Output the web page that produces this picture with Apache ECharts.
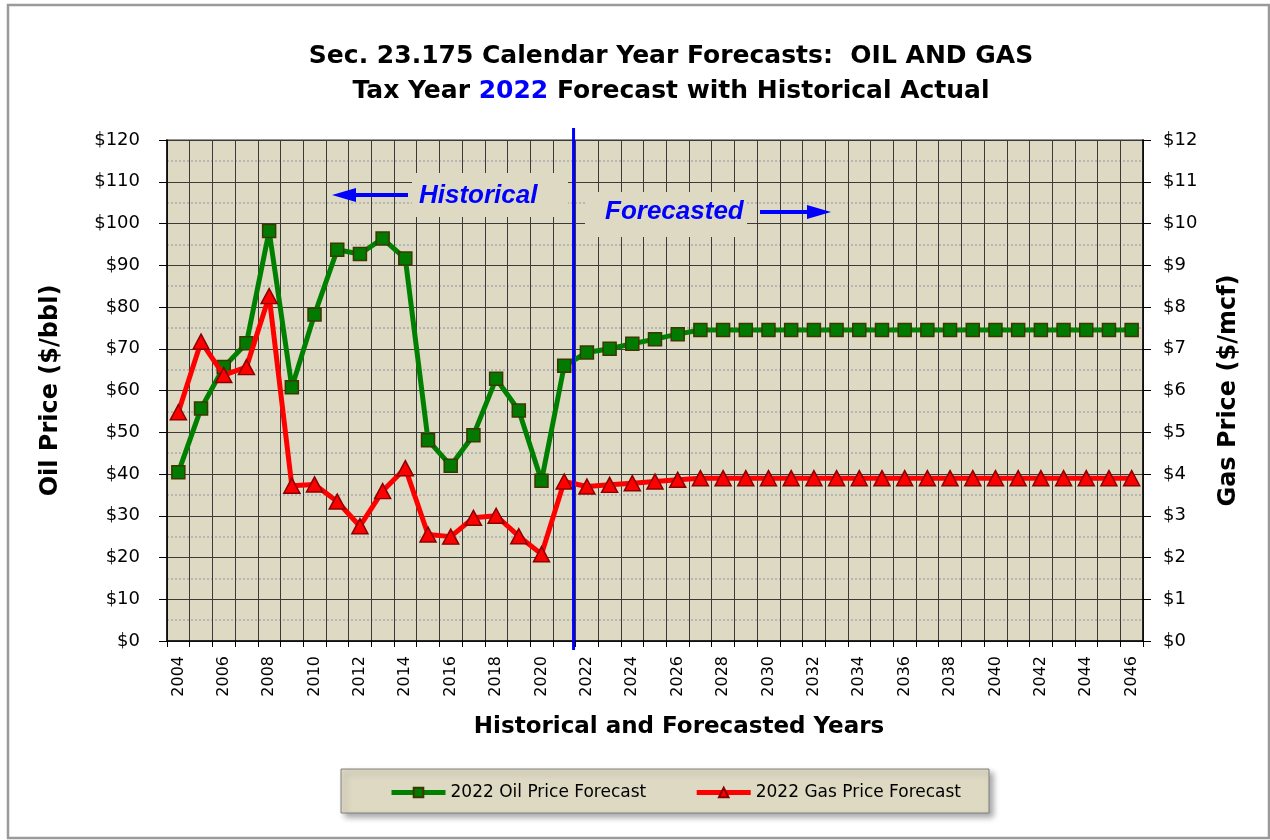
<!DOCTYPE html>
<html>
<head>
<meta charset="utf-8">
<script src="https://cdn.jsdelivr.net/npm/echarts@6/dist/echarts.min.js"></script>
<style>
  html, body { margin: 0; padding: 0; background: #fff; }
  #main { width: 1270px; height: 840px; }
</style>
</head>
<body>
<div id="main"></div>
<script>
var years = ['2004','2005','2006','2007','2008','2009','2010','2011','2012','2013','2014',
	'2015','2016','2017','2018','2019','2020','2021','2022','2023','2024','2025','2026',
	'2027','2028','2029','2030','2031','2032','2033','2034','2035','2036','2037','2038',
	'2039','2040','2041','2042','2043','2044','2045','2046'];

// $/bbl
var oilPrice = [40.4, 55.7, 65.6, 71.3, 98.2, 60.8, 78.2, 93.7, 92.7, 96.4, 91.6,
	48.1, 42.0, 49.3, 62.8, 55.2, 38.4, 65.9, 69.1, 70.0, 71.2, 72.3, 73.5,
	74.5, 74.5, 74.5, 74.5, 74.5, 74.5, 74.5, 74.5, 74.5, 74.5, 74.5, 74.5,
	74.5, 74.5, 74.5, 74.5, 74.5, 74.5, 74.5, 74.5];

// $/mcf
var gasPrice = [5.48, 7.17, 6.37, 6.56, 8.26, 3.72, 3.75, 3.34, 2.75, 3.59, 4.14,
	2.55, 2.50, 2.95, 3.00, 2.51, 2.08, 3.82, 3.70, 3.74, 3.78, 3.82, 3.86,
	3.90, 3.90, 3.90, 3.90, 3.90, 3.90, 3.90, 3.90, 3.90, 3.90, 3.90, 3.90,
	3.90, 3.90, 3.90, 3.90, 3.90, 3.90, 3.90, 3.90];

var lastActualYear = '2021';
var firstForecastYear = '2022';

var FONT = '"DejaVu Sans", Verdana, sans-serif';
var FONT2 = '"Liberation Sans", Arial, sans-serif';
var TAN = '#ddd9c3';

var myChart = echarts.init(document.getElementById('main'));

var annotations = [
	// outer frame
	{ type: 'rect', shape: { x: 8, y: 5, width: 1261, height: 833 },
	  style: { fill: 'none', stroke: '#9a9a9a', lineWidth: 2.5 }, z: 0 },
	// title
	{ type: 'text', x: 671, y: 39, z: 10,
	  style: {
		text: 'Sec. 23.175 Calendar Year Forecasts:  OIL AND GAS\n{b|Tax Year }{blue|2022}{b| Forecast with Historical Actual}',
		font: 'bold 25px ' + FONT, fill: '#000', align: 'center', lineHeight: 35,
		rich: {
			b: { font: 'bold 25px ' + FONT, fill: '#000', lineHeight: 35 },
			blue: { font: 'bold 25px ' + FONT, fill: '#0000ff', lineHeight: 35 }
		}
	  } },
	// Historical label
	{ type: 'rect', shape: { x: 412, y: 173, width: 156, height: 44 },
	  style: { fill: TAN }, z: 5 },
	{ type: 'text', x: 419, y: 196, z: 6,
	  style: { text: 'Historical', font: 'italic bold 26px ' + FONT2, fill: '#0000ff', verticalAlign: 'middle' } },
	{ type: 'line', shape: { x1: 345, y1: 195, x2: 408, y2: 195 },
	  style: { stroke: '#0000ff', lineWidth: 4 }, z: 6 },
	{ type: 'polygon', shape: { points: [[332, 195], [356, 188], [356, 202]] },
	  style: { fill: '#0000ff' }, z: 6 },
	// Forecasted label
	{ type: 'rect', shape: { x: 585, y: 192, width: 162, height: 45 },
	  style: { fill: TAN }, z: 5 },
	{ type: 'text', x: 605, y: 212, z: 6,
	  style: { text: 'Forecasted', font: 'italic bold 26px ' + FONT2, fill: '#0000ff', verticalAlign: 'middle' } },
	{ type: 'line', shape: { x1: 760, y1: 212, x2: 818, y2: 212 },
	  style: { stroke: '#0000ff', lineWidth: 4 }, z: 6 },
	{ type: 'polygon', shape: { points: [[831, 212], [807, 205], [807, 219]] },
	  style: { fill: '#0000ff' }, z: 6 },
	// legend box
	{ type: 'rect', shape: { x: 341, y: 769, width: 648, height: 44 },
	  style: { fill: TAN, stroke: '#808080', lineWidth: 1,
		shadowBlur: 6, shadowOffsetX: 4, shadowOffsetY: 4, shadowColor: 'rgba(0,0,0,0.35)' }, z: 0 }
];

myChart.setOption({
	animation: false,
	textStyle: { fontFamily: FONT },
	grid: {
		left: 167, right: 127, top: 140, bottom: 199,
		show: true, backgroundColor: TAN, borderColor: '#999', borderWidth: 2
	},
	legend: {
		left: 384, top: 779,
		itemWidth: 54, itemHeight: 12, itemGap: 48,
		lineStyle: { width: 5 },
		textStyle: { fontSize: 17, color: '#000', fontFamily: FONT },
		data: ['2022 Oil Price Forecast', '2022 Gas Price Forecast']
	},
	xAxis: {
		type: 'category',
		data: years,
		boundaryGap: true,
		name: 'Historical and Forecasted Years',
		nameLocation: 'middle',
		nameGap: 75,
		nameTextStyle: { fontSize: 23, fontWeight: 'bold', color: '#000', fontFamily: FONT,
			padding: [0, 0, 0, 48] },
		axisLine: { lineStyle: { color: '#000', width: 1.5 } },
		axisTick: { show: true, interval: 0, length: 6, lineStyle: { color: '#000' } },
		axisLabel: { interval: 1, rotate: 90, fontSize: 16, color: '#000', margin: 15 },
		splitLine: { show: true, interval: 0, lineStyle: { color: '#3a3a3a', width: 1 } }
	},
	yAxis: [{
		type: 'value',
		min: 0, max: 120, interval: 10,
		name: 'Oil Price ($/bbl)',
		nameLocation: 'middle',
		nameRotate: 90,
		nameGap: 104,
		nameTextStyle: { fontSize: 24, fontWeight: 'bold', color: '#000', fontFamily: FONT },
		axisLine: { show: true, lineStyle: { color: '#000', width: 1.5 } },
		axisTick: { show: true, length: 8, lineStyle: { color: '#000' } },
		axisLabel: { formatter: '${value}', fontSize: 18, color: '#000', margin: 27 },
		splitLine: { show: true, lineStyle: { color: '#3a3a3a', width: 1 } },
		minorTick: { show: false, splitNumber: 2 },
		minorSplitLine: { show: true, lineStyle: { color: '#a9a9b0', type: [2, 2], width: 1.5 } }
	}, {
		type: 'value',
		min: 0, max: 12, interval: 1,
		position: 'right',
		name: 'Gas Price ($/mcf)',
		nameLocation: 'middle',
		nameRotate: 90,
		nameGap: 74,
		nameTextStyle: { fontSize: 24, fontWeight: 'bold', color: '#000', fontFamily: FONT },
		axisLine: { show: true, lineStyle: { color: '#000', width: 1.5 } },
		axisTick: { show: true, length: 8, lineStyle: { color: '#000' } },
		axisLabel: { formatter: '${value}', fontSize: 18, color: '#000', margin: 20 },
		splitLine: { show: false }
	}],
	series: [{
		name: '2022 Oil Price Forecast',
		type: 'line',
		yAxisIndex: 0,
		data: oilPrice,
		symbol: 'rect',
		symbolSize: 13,
		lineStyle: { color: '#008000', width: 5 },
		itemStyle: { color: '#007a00', borderColor: '#3d3800', borderWidth: 1.5 },
		z: 3
	}, {
		name: '2022 Gas Price Forecast',
		type: 'line',
		yAxisIndex: 1,
		data: gasPrice,
		symbol: 'triangle',
		symbolSize: [16, 15],
		lineStyle: { color: '#ff0000', width: 5 },
		itemStyle: { color: '#ff0000', borderColor: '#8b0000', borderWidth: 1.5 },
		z: 4
	}],
	graphic: annotations
});

// blue divider between historical and forecast years
var xa = myChart.convertToPixel({ xAxisIndex: 0 }, lastActualYear);
var xb = myChart.convertToPixel({ xAxisIndex: 0 }, firstForecastYear);
var xDiv = (xa + xb) / 2 - 2;
annotations.push({ type: 'line', shape: { x1: xDiv, y1: 128, x2: xDiv, y2: 650 },
	style: { stroke: '#0000ff', lineWidth: 3 }, z: 8 });
myChart.setOption({ graphic: annotations });
</script>
</body>
</html>
